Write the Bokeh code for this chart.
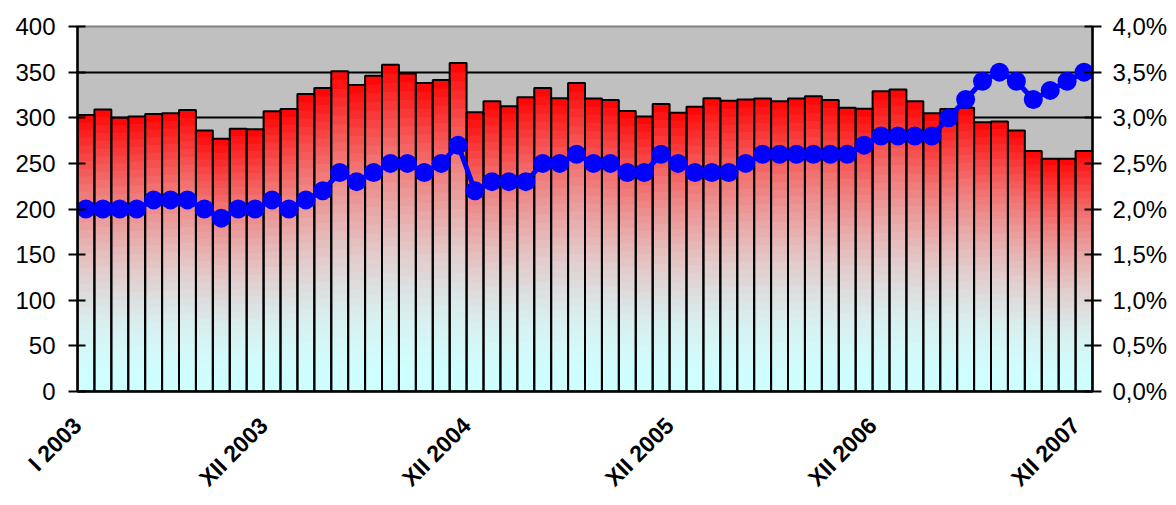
import math
from bokeh.plotting import figure
from bokeh.models import Range1d, LinearAxis, FixedTicker, CustomJSTickFormatter, ColumnDataSource
from bokeh.embed import file_html
from bokeh.resources import INLINE

# ---------------- data ----------------
months = list(range(1, 61))  # I 2003 ... XII 2007
values = [303, 309, 300, 301.5, 304, 305, 308.5, 286, 277, 288, 287.5, 307,
          309.5, 326, 332.5, 351, 336, 346, 358, 348.5, 338, 341.5, 360, 306,
          318, 312.5, 322.5, 332.5, 321.5, 338, 321, 319.5, 307.5, 301.5, 315, 305.5,
          312, 321.5, 318.5, 320, 321, 318, 321, 323.5, 319.5, 311, 310, 329,
          331, 318, 305, 309.5, 311, 295, 296, 286, 263.5, 255, 255, 263.5]
rate_pct = [2.0, 2.0, 2.0, 2.0, 2.1, 2.1, 2.1, 2.0, 1.9, 2.0, 2.0, 2.1,
            2.0, 2.1, 2.2, 2.4, 2.3, 2.4, 2.5, 2.5, 2.4, 2.5, 2.7, 2.2,
            2.3, 2.3, 2.3, 2.5, 2.5, 2.6, 2.5, 2.5, 2.4, 2.4, 2.6, 2.5,
            2.4, 2.4, 2.4, 2.5, 2.6, 2.6, 2.6, 2.6, 2.6, 2.6, 2.7, 2.8,
            2.8, 2.8, 2.8, 3.0, 3.2, 3.4, 3.5, 3.4, 3.2, 3.3, 3.4, 3.5]
tick_months = [1, 12, 24, 36, 48, 60]
tick_labels = ["I 2003", "XII 2003", "XII 2004", "XII 2005", "XII 2006", "XII 2007"]
left_ticks = [0, 50, 100, 150, 200, 250, 300, 350, 400]
right_ticks = [0, 0.5, 1.0, 1.5, 2.0, 2.5, 3.0, 3.5, 4.0]

FONT = "Liberation Sans"

p = figure(width=1172, height=504, output_backend="svg", toolbar_location=None,
           x_range=Range1d(0.5, 60.5), y_range=Range1d(0, 400),
           min_border_left=77, min_border_right=80, min_border_top=26, min_border_bottom=113)
p.background_fill_color = "#C0C0C0"
p.border_fill_color = "white"
p.outline_line_color = "#808080"
p.outline_line_width = 2
p.extra_y_ranges = {"pct": Range1d(0, 4)}

# gridlines
p.xgrid.visible = False
p.ygrid.ticker = FixedTicker(ticks=[50, 100, 150, 200, 250, 300, 350])
p.ygrid.grid_line_color = "black"
p.ygrid.grid_line_width = 2

# ---------------- gradient bars (sliced) ----------------
N = 36
xs, bots, tops, cols = [], [], [], []
for k in range(N):
    f = (k + 0.5) / N
    r = int(round(204 + 51 * f))
    g = int(round(255 * (1 - f ** 1.9)))
    col = "#%02x%02x%02x" % (r, g, g)
    for m, v in zip(months, values):
        xs.append(m)
        bots.append(v * k / N)
        tops.append(min(v, v * (k + 1.5) / N))
        cols.append(col)
src = ColumnDataSource(dict(x=xs, bottom=bots, top=tops, color=cols))
p.vbar(x="x", bottom="bottom", top="top", width=1.0, fill_color="color",
       line_color=None, source=src)
p.vbar(x=months, top=values, width=1.0, fill_alpha=0, line_color="black", line_width=2)

# ---------------- line ----------------
p.line(months, rate_pct, y_range_name="pct", line_color="#0000FF", line_width=5)
p.scatter(months, rate_pct, y_range_name="pct", size=19, fill_color="#0000FF",
          line_color=None, marker="circle")

# ---------------- axes ----------------
yl = p.yaxis[0]
yl.ticker = FixedTicker(ticks=left_ticks)
yr = LinearAxis(y_range_name="pct", ticker=FixedTicker(ticks=right_ticks),
                formatter=CustomJSTickFormatter(code="return tick.toFixed(1).replace('.', ',') + '%';"))
p.add_layout(yr, "right")
for ax in (yl, yr):
    ax.axis_line_color = "black"
    ax.axis_line_width = 2.5
    ax.major_tick_line_color = "black"
    ax.major_tick_line_width = 2
    ax.major_tick_in = 8
    ax.major_tick_out = 9
    ax.minor_tick_line_color = None
    ax.major_label_text_font = FONT
    ax.major_label_text_font_size = "24px"
    ax.major_label_text_color = "black"
yl.major_label_standoff = 13
yr.major_label_standoff = 11

# category labels: anchored at the left edge of each labelled month's bar
xa = p.xaxis[0]
label_pos = [m - 0.5 for m in tick_months]
xa.ticker = FixedTicker(ticks=label_pos)
xa.major_label_overrides = {pos: lab for pos, lab in zip(label_pos, tick_labels)}
xa.axis_line_color = "black"
xa.axis_line_width = 2.5
xa.major_tick_line_color = None
xa.minor_tick_line_color = None
xa.major_tick_in = 0
xa.major_tick_out = 0
xa.major_label_orientation = math.pi / 4
xa.major_label_text_font = FONT
xa.major_label_text_font_style = "bold"
xa.major_label_text_font_size = "23px"
xa.major_label_text_color = "black"
xa.major_label_standoff = 30

open("out.html", "w").write(file_html(p, INLINE))
